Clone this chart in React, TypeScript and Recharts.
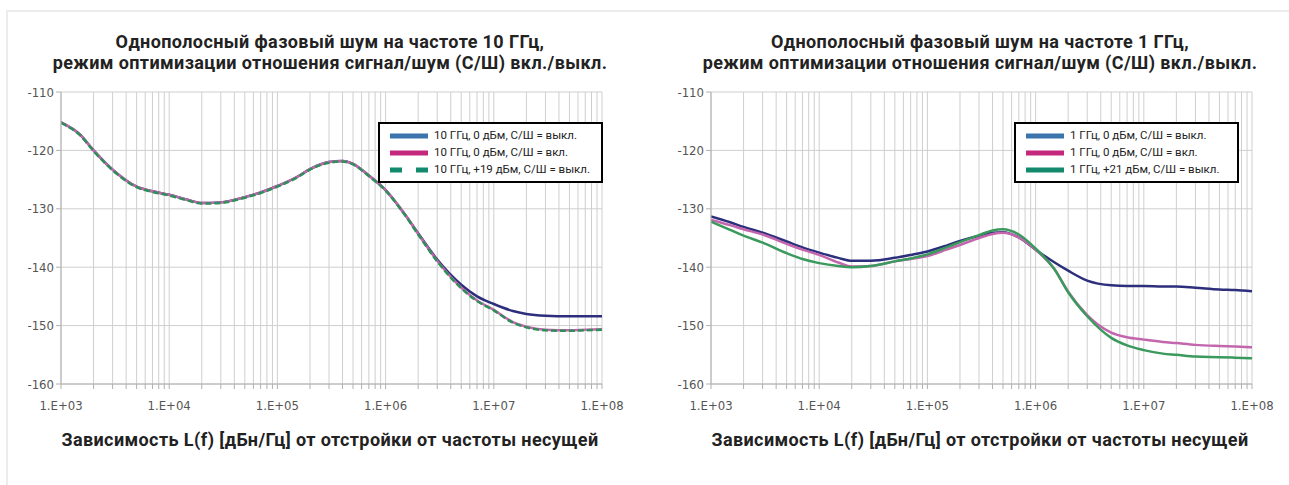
import React from "react";
import {
  LineChart, Line, XAxis, YAxis, CartesianGrid,
} from "recharts";

// offset frequencies, Hz
const FREQ = [
  1e3, 1.5e3, 2e3, 3e3, 5e3, 7e3,
  1e4, 1.5e4, 2e4, 3e4, 5e4, 7e4,
  1e5, 1.5e5, 2e5, 3e5, 4e5, 5e5, 7e5,
  1e6, 1.5e6, 2e6, 3e6, 5e6, 7e6,
  1e7, 1.5e7, 2e7, 3e7, 5e7, 7e7, 1e8,
];

// 10 GHz
const G10_OFF = [
  -115.2, -117.3, -120.0, -123.3, -126.2, -127.0,
  -127.6, -128.5, -129.0, -128.9, -128.0, -127.2,
  -126.1, -124.6, -123.2, -122.0, -121.8, -122.3, -124.3,
  -126.8, -130.9, -134.2, -138.7, -143.0, -145.0,
  -146.3, -147.5, -148.0, -148.3, -148.4, -148.4, -148.4,
];
const G10_ON = [
  -115.2, -117.3, -120.0, -123.3, -126.2, -127.0,
  -127.6, -128.5, -129.0, -128.9, -128.0, -127.2,
  -126.1, -124.6, -123.2, -122.0, -121.8, -122.3, -124.3,
  -126.8, -130.9, -134.3, -138.9, -143.5, -145.7,
  -147.3, -149.4, -150.2, -150.7, -150.8, -150.7, -150.6,
];
const G10_P19 = [
  -115.3, -117.4, -120.1, -123.4, -126.3, -127.1,
  -127.7, -128.6, -129.1, -129.0, -128.1, -127.3,
  -126.2, -124.7, -123.3, -122.1, -121.9, -122.4, -124.4,
  -126.9, -131.0, -134.4, -139.0, -143.6, -145.8,
  -147.4, -149.5, -150.3, -150.8, -150.9, -150.8, -150.7,
];

// 1 GHz
const G1_OFF = [
  -131.3, -132.3, -133.1, -134.1, -135.6, -136.6,
  -137.5, -138.4, -138.9, -138.9, -138.4, -137.9,
  -137.3, -136.3, -135.5, -134.6, -134.1, -134.0, -134.9,
  -137.0, -139.2, -140.6, -142.3, -143.1, -143.2,
  -143.2, -143.3, -143.3, -143.5, -143.8, -143.9, -144.1,
];
const G1_ON = [
  -131.9, -132.8, -133.5, -134.4, -136.0, -137.0,
  -137.9, -139.2, -139.9, -139.8, -139.0, -138.6,
  -138.1, -137.0, -136.2, -135.0, -134.3, -134.1, -134.9,
  -137.0, -140.4, -144.2, -148.2, -151.2, -152.0,
  -152.4, -152.8, -153.0, -153.3, -153.5, -153.6, -153.7,
];
const G1_P21 = [
  -132.2, -133.6, -134.6, -135.8, -137.6, -138.6,
  -139.3, -139.8, -140.0, -139.8, -139.0, -138.5,
  -137.8, -136.6, -135.7, -134.5, -133.7, -133.5, -134.4,
  -136.8, -140.4, -144.3, -148.4, -152.1, -153.4,
  -154.2, -154.8, -155.0, -155.3, -155.4, -155.5, -155.6,
];

const X_TICKS = [1e3, 1e4, 1e5, 1e6, 1e7, 1e8];
const X_MINOR = [2, 3, 4, 5, 6, 7, 8, 9];
const Y_TICKS = [-110, -120, -130, -140, -150, -160];

const LEGEND_10 = ["10 ГГц, 0 дБм, С/Ш = выкл.", "10 ГГц, 0 дБм, С/Ш = вкл.", "10 ГГц, +19 дБм, С/Ш = выкл."];
const LEGEND_1 = ["1 ГГц, 0 дБм, С/Ш = выкл.", "1 ГГц, 0 дБм, С/Ш = вкл.", "1 ГГц, +21 дБм, С/Ш = выкл."];

const TITLE_10 = ["Однополосный фазовый шум на частоте 10 ГГц,", "режим оптимизации отношения сигнал/шум (С/Ш) вкл./выкл."];
const TITLE_1 = ["Однополосный фазовый шум на частоте 1 ГГц,", "режим оптимизации отношения сигнал/шум (С/Ш) вкл./выкл."];
const X_TITLE = "Зависимость L(f) [дБн/Гц] от отстройки от частоты несущей";

const allTicks: number[] = [];
X_TICKS.forEach((d) => {
  allTicks.push(d);
  if (d < 1e8) X_MINOR.forEach((m) => allTicks.push(d * m));
});

const LEGEND_SWATCH = ["#3b74ad", "#c4287c", "#13896d"];

const tickFont = "'Liberation Sans Narrow', 'DejaVu Sans Condensed', Roboto, sans-serif";
const boldFont = "Roboto, 'Noto Sans', sans-serif";

function fmtX(v: number) {
  const e = Math.round(Math.log10(v));
  if (Math.abs(Math.pow(10, e) - v) > 1e-6 * v) return "";
  return `1.E+${String(e).padStart(2, "0")}`;
}

function LegendBox({ labels, dashedLast, left }: { labels: string[]; dashedLast: boolean; left: number }) {
  return (
    <div style={{
      position: "absolute", left, top: 122, width: 225, boxSizing: "border-box",
      border: "2px solid #000", background: "#fff", padding: "3px 4px 3px 10px",
      fontFamily: "Roboto, sans-serif", fontSize: 11.5, color: "#222", lineHeight: "17px",
    }}>
      {labels.map((l, i) => (
        <div key={l} style={{ display: "flex", alignItems: "center", whiteSpace: "nowrap" }}>
          <svg width={38} height={8} style={{ marginRight: 6 }}>
            <line x1={0} y1={4} x2={38} y2={4} stroke={LEGEND_SWATCH[i]} strokeWidth={5}
              strokeDasharray={dashedLast && i === 2 ? "12 14" : undefined} />
          </svg>
          {l}
        </div>
      ))}
    </div>
  );
}

function Panel({ left, title, labels, a, b, c, colors, dashedLast, legendLeft }: any) {
  const rows = FREQ.map((f, i) => ({ f, a: a[i], b: b[i], c: c[i] }));
  return (
    <div style={{ position: "absolute", left, top: 0, width: 640, height: 485 }}>
      <div style={{
        position: "absolute", left: 0, width: 660, top: 31, textAlign: "center",
        fontFamily: boldFont, fontWeight: 700, fontSize: 18, letterSpacing: 0.4,
        lineHeight: "21px", color: "#222", whiteSpace: "nowrap",
      }}>
        {title[0]}<br />{title[1]}
      </div>
      <LineChart width={640} height={485} data={rows}
        margin={{ top: 92, right: 38, bottom: 71, left: 11 }}>
        <CartesianGrid stroke="#cfcfcf" strokeWidth={1} />
        <XAxis dataKey="f" type="number" scale="log" domain={[1e3, 1e8]} ticks={allTicks}
          interval={0} tickFormatter={fmtX} height={30} allowDataOverflow
          stroke="#b0b0b0" tickSize={5} tickMargin={12}
          tick={{ fill: "#555", fontSize: 13, fontFamily: tickFont }} />
        <YAxis type="number" domain={[-160, -110]} ticks={Y_TICKS} interval={0} width={50}
          stroke="#b0b0b0" tickSize={5}
          tick={{ fill: "#555", fontSize: 13, fontFamily: tickFont }} />
        <Line dataKey="a" type="monotone" stroke={colors[0]} strokeWidth={2.5} dot={false} isAnimationActive={false} />
        <Line dataKey="b" type="monotone" stroke={colors[1]} strokeWidth={2.5} dot={false} isAnimationActive={false} />
        <Line dataKey="c" type="monotone" stroke={colors[2]} strokeWidth={2.5} dot={false} isAnimationActive={false}
          strokeDasharray={dashedLast ? "6 3" : undefined} />
      </LineChart>
      <LegendBox labels={labels} dashedLast={dashedLast} left={legendLeft} />
      <div style={{
        position: "absolute", left: 0, width: 660, top: 429, textAlign: "center",
        fontFamily: boldFont, fontWeight: 700, fontSize: 18, letterSpacing: 0.4,
        lineHeight: "21px", color: "#222", whiteSpace: "nowrap",
      }}>
        {X_TITLE}
      </div>
    </div>
  );
}

export default function App() {
  return (
    <div style={{ position: "absolute", left: 0, top: 0, width: 1289, height: 485, background: "#fff", overflow: "hidden" }}>
      <div style={{
        position: "absolute", left: 6, top: 10, width: 1300, height: 500,
        borderTop: "2px solid #ececec", borderLeft: "2px solid #ececec",
      }} />
      <Panel left={0} title={TITLE_10} labels={LEGEND_10} a={G10_OFF} b={G10_ON} c={G10_P19}
        colors={["#2d2f7d", "#c466ad", "#2f8f58"]} dashedLast legendLeft={378} />
      <Panel left={650} title={TITLE_1} labels={LEGEND_1} a={G1_OFF} b={G1_ON} c={G1_P21}
        colors={["#2d2f7d", "#c466ad", "#3a9a5d"]} dashedLast={false} legendLeft={364} />
    </div>
  );
}
